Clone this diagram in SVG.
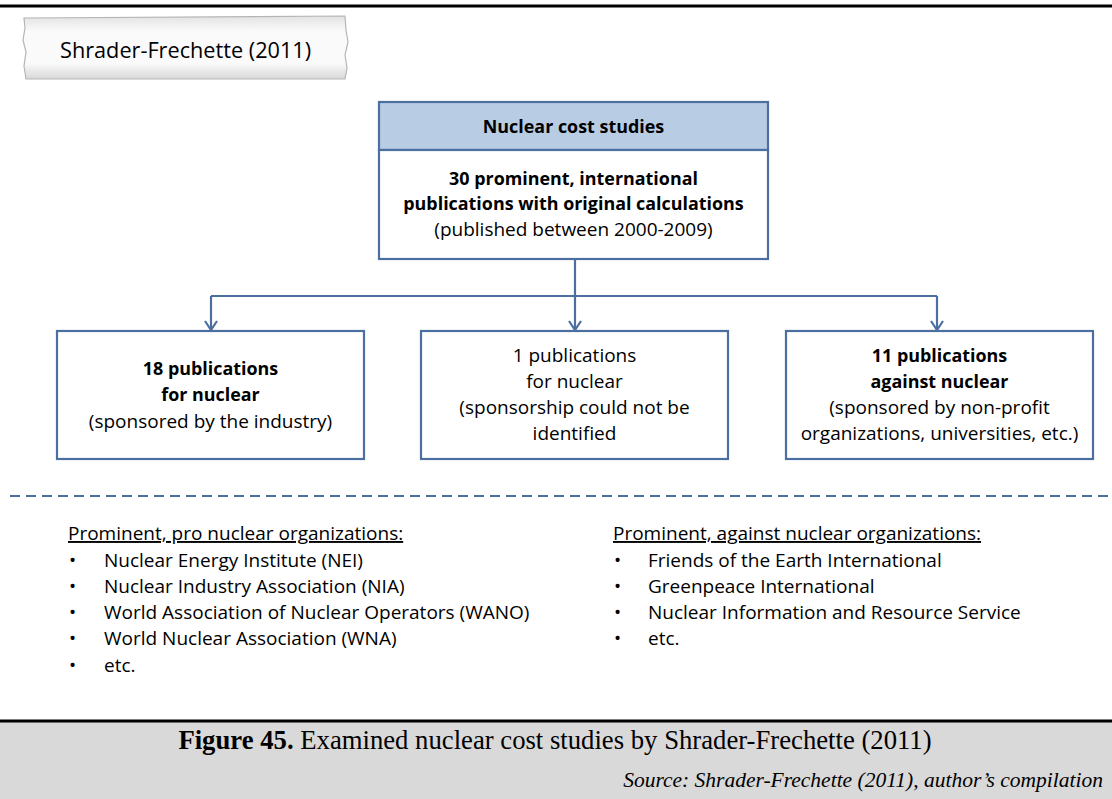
<svg xmlns="http://www.w3.org/2000/svg" width="1112" height="799" viewBox="0 0 1112 799">
<defs>
<style>
.t{font-family:"Open Sans","Liberation Sans",sans-serif;fill:#000;font-size:19px}
.b{font-weight:bold;font-size:17.9px}
.c{text-anchor:middle}
.box{fill:#fff;stroke:#4a6fa0;stroke-width:2.2}
.con{fill:none;stroke:#4a6fa0;stroke-width:2.2}
.ah{fill:none;stroke:#4a6fa0;stroke-width:2.2;stroke-linejoin:miter}
</style>
<linearGradient id="paper" x1="0" y1="0" x2="0" y2="1">
<stop offset="0" stop-color="#e3e3e3"/>
<stop offset="0.25" stop-color="#fafafa"/>
<stop offset="0.75" stop-color="#fafafa"/>
<stop offset="1" stop-color="#d8d8d8"/>
</linearGradient>
</defs>
<rect width="1112" height="799" fill="#fff"/>
<line x1="0" y1="6" x2="1112" y2="6" stroke="#000" stroke-width="3"/>
<g id="label">
<path d="M24,18 L345,16 L346,30 L348,42 L345,55 L347,68 L345,79 L26,79 L24,66 L26,52 L23,40 L25,28 Z" fill="url(#paper)" stroke="#b5b5b5" stroke-width="1.2"/>
<text class="t" x="60" y="58" style="font-size:21.7px">Shrader-Frechette (2011)</text>
</g>
<g id="top">
<rect x="379" y="102" width="389" height="48" fill="#b8cce4" stroke="#4a6fa0" stroke-width="2.2"/>
<rect x="379" y="150" width="389" height="109" class="box"/>
<text class="t b c" x="573.5" y="133">Nuclear cost studies</text>
<text class="t b c" x="573.5" y="185">30 prominent, international</text>
<text class="t b c" x="573.5" y="210">publications with original calculations</text>
<text class="t c" x="573.5" y="236">(published between 2000-2009)</text>
</g>
<g id="connectors">
<path class="con" d="M575,259 V296"/>
<path class="con" d="M211,296 H937"/>
<path class="con" d="M211,296 V330"/>
<path class="con" d="M575,296 V330"/>
<path class="con" d="M937,296 V330"/>
<path class="ah" d="M205,321 L211,330 L217,321"/>
<path class="ah" d="M569,321 L575,330 L581,321"/>
<path class="ah" d="M931,321 L937,330 L943,321"/>
</g>
<g id="left">
<rect x="57" y="331" width="307" height="128" class="box"/>
<text class="t b c" x="210.5" y="375">18 publications</text>
<text class="t b c" x="210.5" y="401">for nuclear</text>
<text class="t c" x="210.5" y="428">(sponsored by the industry)</text>
</g>
<g id="middle">
<rect x="421" y="331" width="307" height="128" class="box"/>
<text class="t c" x="574.5" y="362">1 publications</text>
<text class="t c" x="574.5" y="388">for nuclear</text>
<text class="t c" x="574.5" y="414">(sponsorship could not be</text>
<text class="t c" x="574.5" y="440">identified</text>
</g>
<g id="right">
<rect x="786" y="331" width="307" height="128" class="box"/>
<text class="t b c" x="939.5" y="362">11 publications</text>
<text class="t b c" x="939.5" y="388">against nuclear</text>
<text class="t c" x="939.5" y="414">(sponsored by non-profit</text>
<text class="t c" x="939.5" y="440">organizations, universities, etc.)</text>
</g>
<line x1="10" y1="496" x2="1108" y2="496" stroke="#4a6fa0" stroke-width="2" stroke-dasharray="10,6"/>
<g id="prolist">
<text class="t" x="68" y="540" text-decoration="underline">Prominent, pro nuclear organizations:</text>
<text class="t" x="69" y="567">•</text><text class="t" x="104" y="567">Nuclear Energy Institute (NEI)</text>
<text class="t" x="69" y="593">•</text><text class="t" x="104" y="593">Nuclear Industry Association (NIA)</text>
<text class="t" x="69" y="619">•</text><text class="t" x="104" y="619">World Association of Nuclear Operators (WANO)</text>
<text class="t" x="69" y="645">•</text><text class="t" x="104" y="645">World Nuclear Association (WNA)</text>
<text class="t" x="69" y="672">•</text><text class="t" x="104" y="672">etc.</text>
</g>
<g id="antilist">
<text class="t" x="613" y="540" text-decoration="underline">Prominent, against nuclear organizations:</text>
<text class="t" x="614" y="567">•</text><text class="t" x="648" y="567">Friends of the Earth International</text>
<text class="t" x="614" y="593">•</text><text class="t" x="648" y="593">Greenpeace International</text>
<text class="t" x="614" y="619">•</text><text class="t" x="648" y="619">Nuclear Information and Resource Service</text>
<text class="t" x="614" y="645">•</text><text class="t" x="648" y="645">etc.</text>
</g>
<g id="caption">
<rect x="0" y="721" width="1112" height="78" fill="#d9d9d9"/>
<line x1="0" y1="721" x2="1112" y2="721" stroke="#000" stroke-width="3"/>
<text x="555" y="749" style="font-family:'Liberation Serif',serif;font-size:26.7px" text-anchor="middle"><tspan font-weight="bold">Figure 45.</tspan> Examined nuclear cost studies by Shrader-Frechette (2011)</text>
<text x="1103" y="787" style="font-family:'Liberation Serif',serif;font-size:21.5px;font-style:italic" text-anchor="end">Source: Shrader-Frechette (2011), author’s compilation</text>
</g>
</svg>
